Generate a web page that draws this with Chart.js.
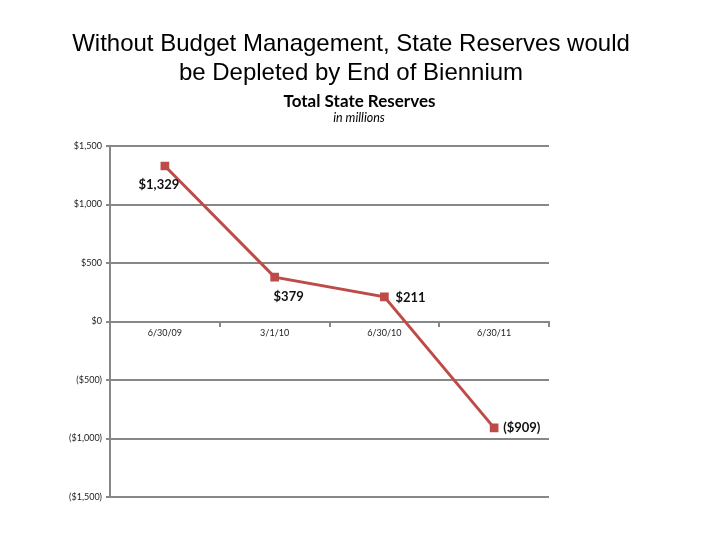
<!DOCTYPE html>
<html>
<head>
<meta charset="utf-8">
<script src="https://cdn.jsdelivr.net/npm/chart.js@4/dist/chart.umd.min.js"></script>
<style>
  body { margin: 0; background: #fff; }
  #wrap { position: relative; width: 720px; height: 540px; }
  #myChart { position: absolute; left: 0; top: 0; }
  .t { position: absolute; left: 0; text-align: center; white-space: nowrap; }
  #title { width: 702px; top: 28px; font: 24px "Liberation Sans", Arial, sans-serif; line-height: 29px; color: #000; }
  #sub1 { width: 719px; top: 90px; font: bold 17px Lato, sans-serif; color: #000; }
  #sub2 { width: 718px; top: 110px; font: italic 12.5px Lato, sans-serif; color: #000; }
</style>
</head>
<body>
<div id="wrap">
  <canvas id="myChart" width="720" height="540"></canvas>
  <div id="title" class="t">Without Budget Management, State Reserves would<br>be Depleted by End of Biennium</div>
  <div id="sub1" class="t">Total State Reserves</div>
  <div id="sub2" class="t">in millions</div>
</div>
<script>
var dates = ["6/30/09", "3/1/10", "6/30/10", "6/30/11"];
var reserves = [1329, 379, 211, -909];
var yTicks = [-1500, -1000, -500, 0, 500, 1000, 1500];

function money(v) {
  var s = "$" + Math.abs(v).toLocaleString("en-US");
  return v < 0 ? "(" + s + ")" : s;
}

// label placement next to each point (dx, dy, align)
var labelSpots = [
  { dx: -6, dy: 19, align: "center" },
  { dx: 14, dy: 20, align: "center" },
  { dx: 11, dy: 1, align: "left" },
  { dx: 9, dy: 0, align: "left" }
];

var pointLabels = {
  id: "pointLabels",
  afterDatasetsDraw: function (chart) {
    var ctx = chart.ctx;
    var meta = chart.getDatasetMeta(0);
    ctx.save();
    ctx.font = "bold 13px Lato, sans-serif";
    ctx.fillStyle = "#111";
    ctx.textBaseline = "middle";
    meta.data.forEach(function (pt, i) {
      var s = labelSpots[i];
      ctx.textAlign = s.align;
      ctx.fillText(money(reserves[i]), pt.x + s.dx, pt.y + s.dy);
    });
    ctx.restore();
  }
};

var gray = "#878787";
var ctx = document.getElementById("myChart").getContext("2d");

var myChart = new Chart(ctx, {
  type: "line",
  data: {
    labels: dates,
    datasets: [{
      label: "Total State Reserves",
      data: reserves,
      borderColor: "#BE4B48",
      backgroundColor: "#BE4B48",
      borderWidth: 3,
      pointStyle: "rect",
      pointRadius: 4,
      tension: 0
    }]
  },
  options: {
    responsive: false,
    animation: false,
    layout: { padding: { left: 0, right: 171, top: 146, bottom: 43 } },
    plugins: {
      legend: { display: false },
      tooltip: { enabled: false }
    },
    scales: {
      y: {
        min: -1500,
        max: 1500,
        afterFit: function (scale) { scale.width = 110; },
        afterBuildTicks: function (scale) {
          scale.ticks = yTicks.map(function (v) { return { value: v }; });
        },
        ticks: {
          color: "#222",
          font: { family: "Lato", size: 9 },
          padding: 4,
          callback: function (v) { return money(v); }
        },
        grid: { color: gray, lineWidth: 2, tickLength: 4 },
        border: { color: gray, width: 2 }
      },
      x: {
        position: { y: 0 },
        offset: true,
        ticks: {
          color: "#222",
          font: { family: "Lato", size: 9 },
          padding: 2,
          maxRotation: 0
        },
        grid: { drawOnChartArea: false, offset: true, color: gray, lineWidth: 2, tickLength: 4 },
        border: { color: gray, width: 2 }
      }
    }
  },
  plugins: [pointLabels]
});
</script>
</body>
</html>
